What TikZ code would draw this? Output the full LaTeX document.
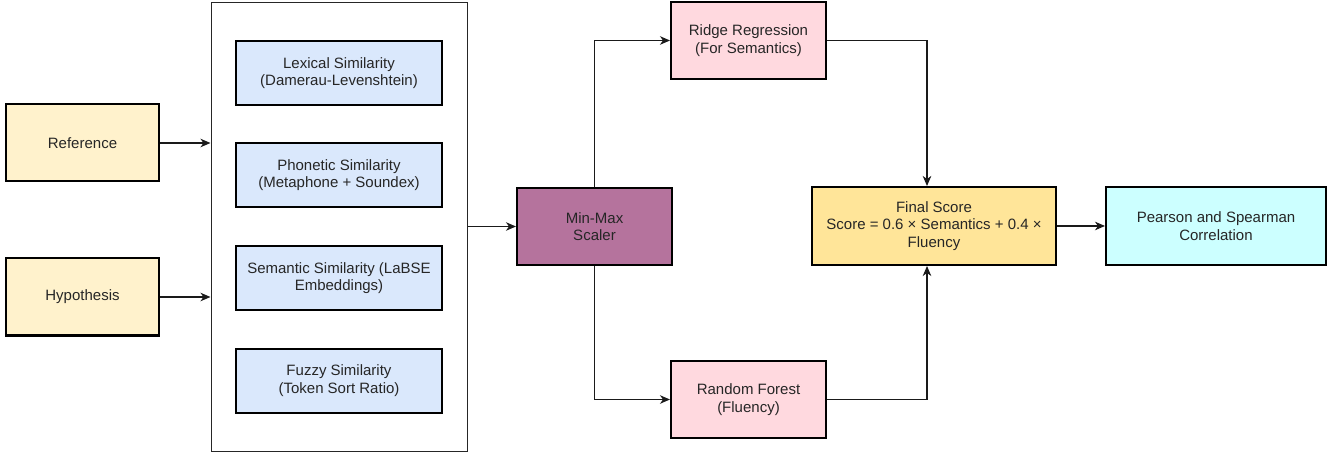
\documentclass[tikz,border=0pt]{standalone}
\usepackage{fontspec}
\setmainfont{Liberation Sans}
\usetikzlibrary{arrows.meta,calc}
\definecolor{cyellow}{HTML}{FFF2CC}
\definecolor{cblue}{HTML}{DAE8FC}
\definecolor{cpurple}{HTML}{B5739D}
\definecolor{cpink}{HTML}{FFD9DF}
\definecolor{cgold}{HTML}{FFE599}
\definecolor{ccyan}{HTML}{CCFFFF}
\definecolor{cline}{HTML}{1A1A1A}
\tikzset{
  box/.style={draw=black, line width=2pt, align=center, inner sep=2pt,
    font=\fontsize{15}{17.7}\selectfont, text=black!85},
  conn/.style={draw=cline, line width=1.2pt,
    -{Stealth[length=10pt,width=8.5pt,inset=3pt]}},
  plain/.style={draw=cline, line width=1.2pt},
}
\begin{document}
\begin{tikzpicture}[x=1pt,y=-1pt]
\useasboundingbox (0,0) rectangle (1336,454);
\node[draw=black!85, line width=1pt, minimum width=256pt, minimum height=448pt, inner sep=0pt] (big) at (339,227) {};
\node[box, fill=cyellow, minimum width=153pt, minimum height=77pt] (ref) at (82.5,143) {Reference};
\node[box, fill=cyellow, minimum width=153pt, minimum height=77pt] (hyp) at (82.5,297) {Hypothesis};
\node[box, fill=cblue, minimum width=206pt, minimum height=64pt] (lex) at (339,73) {Lexical Similarity\\(Damerau-Levenshtein)};
\node[box, fill=cblue, minimum width=206pt, minimum height=64pt] (pho) at (339,175) {Phonetic Similarity\\(Metaphone + Soundex)};
\node[box, fill=cblue, minimum width=206pt, minimum height=64pt] (sem) at (339,278) {Semantic Similarity (LaBSE\\Embeddings)};
\node[box, fill=cblue, minimum width=206pt, minimum height=64pt] (fuz) at (339,380.5) {Fuzzy Similarity\\(Token Sort Ratio)};
\node[box, fill=cpurple, minimum width=155pt, minimum height=77pt] (mm) at (594.5,226.5) {Min-Max\\Scaler};
\node[box, fill=cpink, minimum width=155pt, minimum height=77pt] (ridge) at (748.5,40.5) {Ridge Regression\\(For Semantics)};
\node[box, fill=cpink, minimum width=155pt, minimum height=77pt] (rf) at (748.5,399.5) {Random Forest\\(Fluency)};
\node[box, fill=cgold, minimum width=244pt, minimum height=78pt] (final) at (934,226) {Final Score\\Score = 0.6 × Semantics + 0.4 ×\\Fluency};
\node[box, fill=ccyan, minimum width=220pt, minimum height=78pt] (pear) at (1216,226) {Pearson and Spearman\\Correlation};
\draw[conn] (ref.east) -- (ref.east -| big.west);
\draw[conn] (hyp.east) -- (hyp.east -| big.west);
\draw[conn] (big.east |- mm.west) -- (mm.west);
\draw[conn] (mm.north) |- (ridge.west);
\draw[conn] (mm.south) |- (rf.west);
\draw[conn] (ridge.east) -| ([xshift=-7pt]final.north);
\draw[conn] (rf.east) -| ([xshift=-7pt]final.south);
\draw[conn] (final.east) -- (pear.west);
\end{tikzpicture}
\end{document}
